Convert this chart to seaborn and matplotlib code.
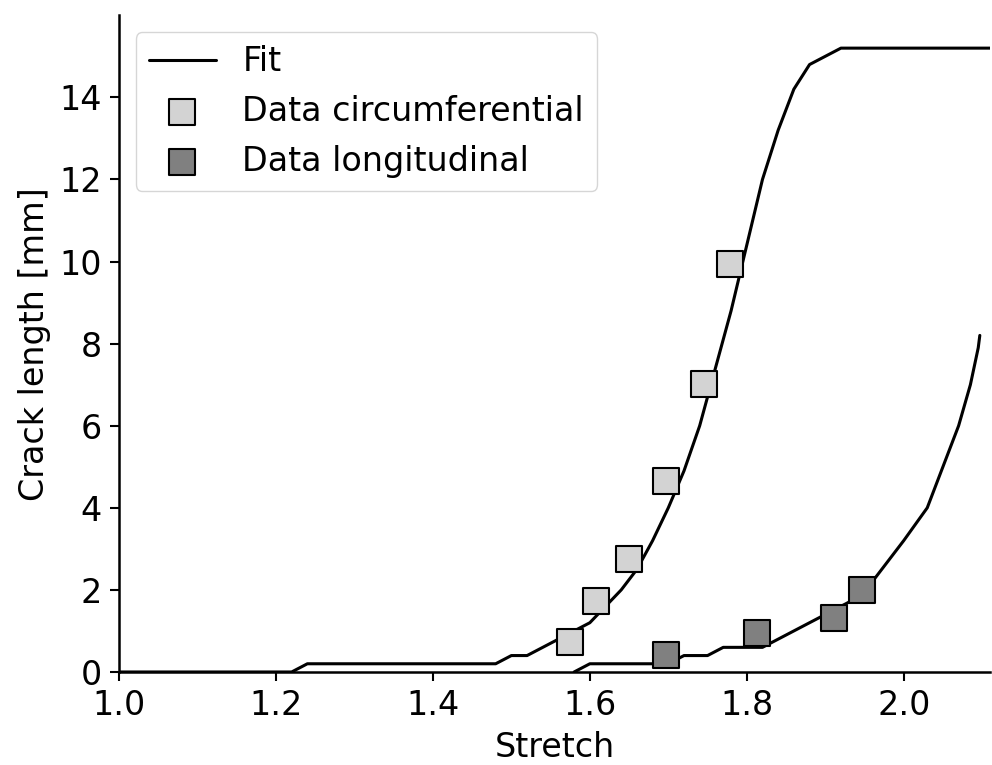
import pandas as pd
import matplotlib
matplotlib.use('Agg')
import matplotlib.pyplot as plt
import seaborn as sns

# Fit curves
fit_circ_x = [1.0, 1.22, 1.24, 1.48, 1.50, 1.52, 1.54, 1.56, 1.58, 1.60, 1.62, 1.64,
              1.66, 1.68, 1.70, 1.72, 1.74, 1.76, 1.78, 1.80, 1.82, 1.84, 1.86,
              1.88, 1.90, 1.92, 2.12]
fit_circ_y = [0.0, 0.0, 0.2, 0.2, 0.4, 0.4, 0.6, 0.8, 1.0, 1.2, 1.6, 2.0,
              2.5, 3.2, 4.0, 4.9, 6.0, 7.4, 8.8, 10.4, 12.0, 13.2, 14.2,
              14.8, 15.0, 15.2, 15.2]

fit_long_x = [1.58, 1.60, 1.70, 1.72, 1.75, 1.77, 1.82, 1.84, 1.86, 1.88, 1.90,
              1.92, 1.94, 1.96, 1.98, 2.00, 2.03, 2.05, 2.07, 2.085, 2.095, 2.097]
fit_long_y = [0.0, 0.2, 0.2, 0.4, 0.4, 0.6, 0.6, 0.8, 1.0, 1.2, 1.4,
              1.6, 1.8, 2.2, 2.7, 3.2, 4.0, 5.0, 6.0, 7.0, 7.9, 8.2]

# Measured data
circ_stretch = [1.575, 1.608, 1.650, 1.697, 1.745, 1.778]
circ_crack = [0.74, 1.74, 2.76, 4.66, 7.02, 9.93]

long_stretch = [1.697, 1.813, 1.911, 1.947]
long_crack = [0.41, 0.94, 1.31, 2.0]

sns.set_style('ticks')
plt.rcParams['font.family'] = ['DejaVu Sans']
plt.rcParams['text.color'] = 'black'
plt.rcParams['axes.labelcolor'] = 'black'
plt.rcParams['xtick.color'] = 'black'
plt.rcParams['ytick.color'] = 'black'
plt.rcParams['axes.edgecolor'] = 'black'

fig, ax = plt.subplots(figsize=(9.92, 7.65), dpi=100)
fig.subplots_adjust(left=0.12, right=0.998, bottom=0.1216, top=0.98)

sns.lineplot(x=fit_circ_x, y=fit_circ_y, ax=ax, color='black', linewidth=2.2,
             label='Fit', sort=False)
sns.lineplot(x=fit_long_x, y=fit_long_y, ax=ax, color='black', linewidth=2.2,
             sort=False)
sns.scatterplot(x=circ_stretch, y=circ_crack, ax=ax, marker='s', s=330,
                color='lightgray', edgecolor='black', linewidth=1.5,
                label='Data circumferential', zorder=3)
sns.scatterplot(x=long_stretch, y=long_crack, ax=ax, marker='s', s=330,
                color='gray', edgecolor='black', linewidth=1.5,
                label='Data longitudinal', zorder=3)

ax.set_xlim(1.0, 2.11)
ax.set_ylim(0, 16)
ax.set_xticks([1.0, 1.2, 1.4, 1.6, 1.8, 2.0])
ax.set_yticks(range(0, 15, 2))
ax.tick_params(labelsize=24, width=1.5, length=6.5, pad=6)
for s in ax.spines.values():
    s.set_linewidth(1.8)
ax.set_xlabel('Stretch', fontsize=24, labelpad=6)
ax.set_ylabel('Crack length [mm]', fontsize=24, labelpad=6)
sns.despine(ax=ax)

ax.legend(loc='upper left', fontsize=24, frameon=True, borderaxespad=0.5)

plt.savefig('out.png', dpi=100)
